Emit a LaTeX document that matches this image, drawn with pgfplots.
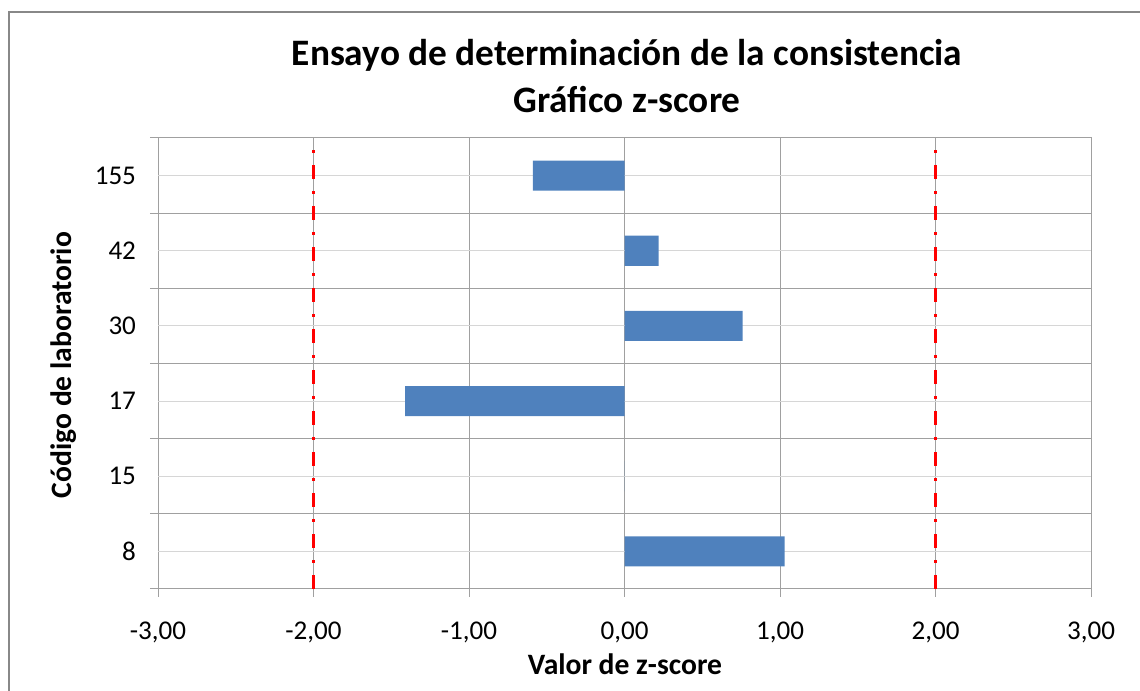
\documentclass[border=0pt]{standalone}
\usepackage{fontspec}
\setmainfont{Carlito}
\usepackage{pgfplots}
\pgfplotsset{compat=1.18}
\definecolor{barblue}{RGB}{79,129,189}
\definecolor{gridmaj}{RGB}{160,160,160}
\definecolor{gridmin}{RGB}{214,214,214}
\definecolor{framegray}{RGB}{136,136,136}

\begin{document}
\begin{tikzpicture}
% page frame, titles and axis labels placed in pixel units (1px = 0.75pt)
\begin{scope}[x=0.75pt,y=0.75pt]
\useasboundingbox (0,0) rectangle (1140,691);
\draw[framegray, line width=1.5pt] (9,0) -- (9,679) -- (1140,679);
\node[font=\fontsize{28}{32}\selectfont\bfseries] at (627,636)
  {Ensayo de determinación de la consistencia};
\node[font=\fontsize{28}{32}\selectfont\bfseries] at (627,591)
  {Gráfico z-score};
\node[font=\fontsize{22.2}{26}\selectfont\bfseries] at (625,27)
  {Valor de z-score};
\node[rotate=90, font=\fontsize{22.2}{26}\selectfont\bfseries] at (64,326)
  {Código de laboratorio};
\end{scope}

\begin{axis}[
  at={(118.5pt,76.5pt)}, anchor=south west,
  scale only axis,
  width=699.75pt, height=338.25pt,
  xmin=-3, xmax=3, ymin=-0.5, ymax=5.5,
  xtick={-3,-2,-1,0,1,2,3},
  ytick={-0.5,0.5,1.5,2.5,3.5,4.5,5.5},
  yticklabels={},
  extra y ticks={0,1,2,3,4,5},
  extra y tick labels={8,15,17,30,42,155},
  extra y tick style={major tick length=0pt, grid=major,
    major grid style={gridmin, line width=0.75pt}},
  xmajorgrids, ymajorgrids,
  major grid style={gridmaj, line width=0.75pt},
  axis line style={gridmaj, line width=0.75pt},
  tick style={gridmaj, line width=0.75pt},
  tick align=outside,
  major tick length=6pt,
  xtick pos=bottom, ytick pos=left,
  xticklabel style={font=\fontsize{20.3}{24}\selectfont, yshift=-15pt,
    /pgf/number format/.cd, fixed, fixed zerofill, precision=2,
    use comma, assume math mode=true},
  yticklabel style={font=\fontsize{20.3}{24}\selectfont, xshift=-13pt},
]
\addplot[xbar, bar width=0.4, fill=barblue, draw=none]
  coordinates {(1.03,0) (0,1) (-1.41,2) (0.76,3) (0.22,4) (-0.59,5)};
\addplot[red, line width=2.25pt, dash pattern=on 10.5pt off 9pt on 2.25pt off 9pt]
  coordinates {(-2,-0.5) (-2,5.5)};
\addplot[red, line width=2.25pt, dash pattern=on 10.5pt off 9pt on 2.25pt off 9pt]
  coordinates {(2,-0.5) (2,5.5)};
\end{axis}
\end{tikzpicture}
\end{document}
